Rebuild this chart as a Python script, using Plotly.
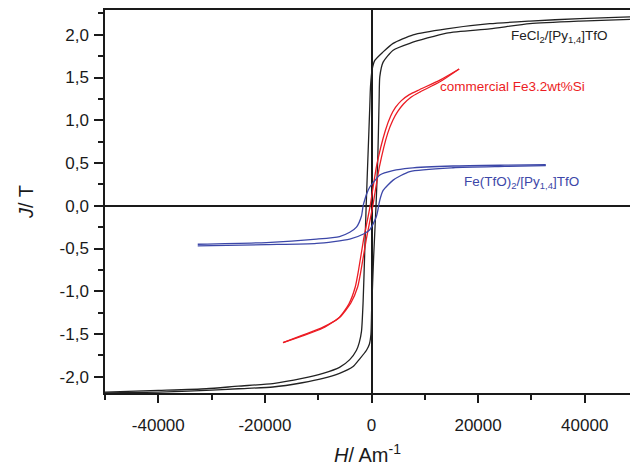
import plotly.graph_objects as go

# ---- data ----
# FeCl2/[Py1,4]TfO loop (black)
fecl_desc_H = [48500, 39100, 29700, 22200, 14090, 7810, 4060, 2180, 620, 110, -190, -320,
               -650, -1000, -1300, -1570, -1880, -2300, -2820, -4080, -6000, -9090, -13000,
               -18500, -25000, -31000, -40000, -50000]
fecl_desc_J = [2.21, 2.19, 2.16, 2.13, 2.07, 2.00, 1.90, 1.80, 1.70, 1.59, 1.39, 1.16,
               0.60, 0.00, -0.60, -1.12, -1.47, -1.60, -1.69, -1.80, -1.89, -1.96, -2.02,
               -2.08, -2.11, -2.14, -2.16, -2.18]
fecl_asc_H = [-50000, -40000, -31000, -25000, -18500, -13000, -9090, -6000, -3450, -2200,
              -940, -400, -100, 30, 400, 850, 1200, 1430, 1560, 2180, 4060, 7190, 14090,
              22200, 29700, 39100, 48500]
fecl_asc_J = [-2.19, -2.18, -2.16, -2.14, -2.12, -2.07, -2.02, -1.96, -1.88, -1.79,
              -1.69, -1.62, -1.50, -1.22, -0.60, 0.00, 0.60, 1.24, 1.51, 1.68, 1.82, 1.90,
              2.02, 2.07, 2.13, 2.16, 2.18]

# commercial Fe3.2wt%Si (red)
si_desc_H = [16450, 12830, 9070, 7100, 5600, 4500, 3600, 2600, 1000, -250, -1500, -2450,
             -3050, -4250, -6100, -9090, -12800, -16600]
si_desc_J = [1.60, 1.47, 1.36, 1.30, 1.23, 1.15, 1.05, 0.88, 0.48, 0.00, -0.40, -0.76,
             -0.95, -1.15, -1.31, -1.42, -1.51, -1.60]
si_asc_H = [-16600, -12800, -9090, -5900, -3900, -2600, -1950, -1000, 250, 1500, 3050,
            4000, 4900, 6000, 7400, 9070, 12830, 16450]
si_asc_J = [-1.60, -1.52, -1.43, -1.30, -1.14, -0.95, -0.75, -0.40, 0.00, 0.46, 0.85,
            1.00, 1.10, 1.19, 1.27, 1.33, 1.45, 1.60]

# Fe(TfO)2/[Py1,4]TfO (blue)
tfo_desc_H = [32700, 25000, 15300, 7190, 4000, 1560, 300, -320, -900, -1260, -1570,
              -1880, -2820, -4080, -6000, -10300, -19700, -32600]
tfo_desc_J = [0.48, 0.475, 0.465, 0.44, 0.41, 0.36, 0.27, 0.22, 0.14, 0.07, 0.00,
              -0.12, -0.25, -0.31, -0.36, -0.39, -0.43, -0.45]
tfo_asc_H = [-32600, -19700, -10300, -4080, -1500, -320, 400, 940, 1200, 1430, 1700,
             2180, 4060, 7190, 15300, 25000, 32700]
tfo_asc_J = [-0.47, -0.455, -0.44, -0.39, -0.33, -0.28, -0.20, -0.12, -0.05, 0.03,
             0.10, 0.18, 0.30, 0.40, 0.445, 0.46, 0.47]

x_tick_vals = [-40000, -20000, 0, 20000, 40000]
x_tick_text = ["-40000", "-20000", "0", "20000", "40000"]
y_tick_vals = [-2.0, -1.5, -1.0, -0.5, 0.0, 0.5, 1.0, 1.5, 2.0]
y_tick_text = ["-2,0", "-1,5", "-1,0", "-0,5", "0,0", "0,5", "1,0", "1,5", "2,0"]

BLACK = "#222222"
RED = "#ec1c24"
BLUE = "#3c47a8"
AX = "#1a1a1a"

fig = go.Figure()
for H, J, c in [(fecl_desc_H, fecl_desc_J, BLACK), (fecl_asc_H, fecl_asc_J, BLACK),
                (si_desc_H, si_desc_J, RED), (si_asc_H, si_asc_J, RED),
                (tfo_desc_H, tfo_desc_J, BLUE), (tfo_asc_H, tfo_asc_J, BLUE)]:
    fig.add_trace(go.Scatter(x=H, y=J, mode="lines",
                             line=dict(color=c, width=1.3, shape="spline", smoothing=0.6),
                             showlegend=False, hoverinfo="skip"))

fig.update_layout(
    width=630, height=466,
    margin=dict(l=105, r=0, t=10, b=73),
    paper_bgcolor="white", plot_bgcolor="white",
    font=dict(family="Liberation Sans, Arial, sans-serif", color=AX),
    annotations=[
        dict(x=25800, y=1.985, xref="x", yref="y", xanchor="left", yanchor="middle",
             text="FeCl<sub>2</sub>/[Py<sub>1,4</sub>]TfO", showarrow=False,
             font=dict(size=13.5, color=BLACK)),
        dict(x=12450, y=1.39, xref="x", yref="y", xanchor="left", yanchor="middle",
             text="commercial Fe3.2wt%Si", showarrow=False,
             font=dict(size=13.5, color=RED)),
        dict(x=16960, y=0.277, xref="x", yref="y", xanchor="left", yanchor="middle",
             text="Fe(TfO)<sub>2</sub>/[Py<sub>1,4</sub>]TfO", showarrow=False,
             font=dict(size=13.5, color=BLUE)),
    ],
)
fig.update_xaxes(
    range=[-50000, 48500], showgrid=False,
    tickmode="array", tickvals=x_tick_vals, ticktext=x_tick_text,
    ticks="outside", ticklen=8, tickwidth=1.5, tickcolor=AX,
    minor=dict(tickmode="linear", tick0=0, dtick=10000, ticks="outside", ticklen=5,
               tickwidth=1.5, tickcolor=AX),
    showline=True, linecolor=AX, linewidth=1.5, mirror=True,
    zeroline=True, zerolinecolor=AX, zerolinewidth=1.5,
    tickfont=dict(size=17), ticklabelstandoff=8,
    title=dict(text="<i>H</i>/ Am<sup>-1</sup>", font=dict(size=20), standoff=18),
)
fig.update_yaxes(
    range=[-2.19, 2.29], showgrid=False,
    tickmode="array", tickvals=y_tick_vals, ticktext=y_tick_text,
    ticks="outside", ticklen=9, tickwidth=1.5, tickcolor=AX,
    minor=dict(tickmode="linear", tick0=0, dtick=0.25, ticks="outside", ticklen=5,
               tickwidth=1.5, tickcolor=AX),
    showline=True, linecolor=AX, linewidth=1.5,
    zeroline=True, zerolinecolor=AX, zerolinewidth=1.5,
    tickfont=dict(size=17), ticklabelstandoff=2,
    title=dict(text="<i>J</i>/ T", font=dict(size=20), standoff=21),
)

fig.write_html("out.html")
